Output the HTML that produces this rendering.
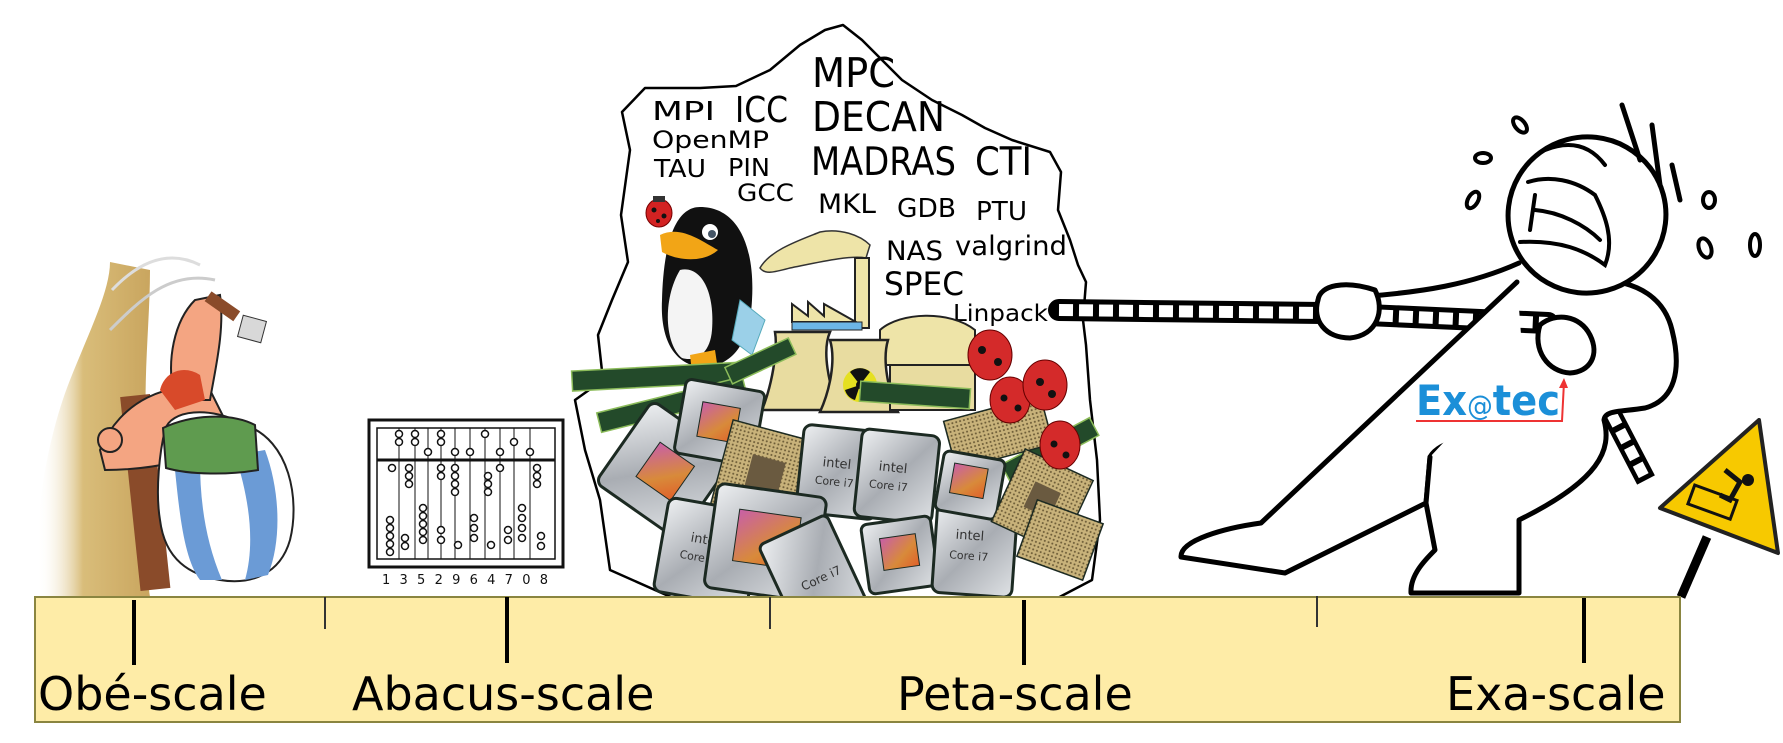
<!DOCTYPE html>
<html><head><meta charset="utf-8"><style>
html,body{margin:0;padding:0;background:#fff;}
svg{display:block;}
text{font-family:"DejaVu Sans","Liberation Sans",sans-serif;}
</style></head><body>
<svg width="1783" height="743" viewBox="0 0 1783 743" xmlns="http://www.w3.org/2000/svg">
<defs>
<linearGradient id="chip" x1="0" y1="0" x2="1" y2="1"><stop offset="0" stop-color="#eef0f2"/><stop offset="0.5" stop-color="#a9adb3"/><stop offset="1" stop-color="#dfe2e5"/></linearGradient>
<linearGradient id="die" x1="0" y1="0" x2="1" y2="1"><stop offset="0" stop-color="#c85fa8"/><stop offset="0.6" stop-color="#d88a3a"/><stop offset="1" stop-color="#e0602a"/></linearGradient>
<pattern id="pins" width="4" height="4" patternUnits="userSpaceOnUse"><rect width="4" height="4" fill="#c8b27a"/><circle cx="2" cy="2" r="1" fill="#6b5a35"/></pattern>
<linearGradient id="rock" x1="0" y1="0" x2="1" y2="0"><stop offset="0" stop-color="#fff" stop-opacity="0"/><stop offset="0.4" stop-color="#d9bd7a"/><stop offset="1" stop-color="#c9a55e"/></linearGradient>
</defs>

<!-- Obelix -->
<path d="M40,597 C30,520 50,430 70,380 C90,330 110,290 110,262 L150,270 C150,330 140,400 150,470 C155,530 145,570 150,597 Z" fill="url(#rock)"/>
<path d="M110,330 C140,300 170,270 215,280" fill="none" stroke="#ccc" stroke-width="3"/>
<rect x="130" y="395" width="30" height="195" fill="#8a4b2a" transform="rotate(-6 145 490)"/>
<path d="M100,450 C120,400 170,380 210,390 L235,440 C200,460 150,470 105,470 Z" fill="#f4a582" stroke="#222" stroke-width="2"/>
<path d="M175,400 C165,360 175,320 195,300 L220,295 C225,330 215,370 210,400 Z" fill="#f4a582" stroke="#222" stroke-width="2"/>
<circle cx="110" cy="440" r="12" fill="#f4a582" stroke="#222" stroke-width="2"/>
<path d="M112,290 C150,250 180,255 200,265" fill="none" stroke="#ddd" stroke-width="3"/>
<rect x="205" y="300" width="35" height="12" fill="#8a4b2a" transform="rotate(35 222 306)"/>
<rect x="240" y="318" width="24" height="22" fill="#d8d8d8" stroke="#333" transform="rotate(15 252 329)"/>
<path d="M165,430 C170,410 210,405 245,425 C290,440 300,500 290,540 C280,575 250,585 220,580 C190,575 165,560 160,520 C155,490 160,450 165,430 Z" fill="#fff" stroke="#222" stroke-width="2"/>
<path d="M175,470 C180,520 185,560 200,580 L222,580 C205,540 200,500 200,460 Z" fill="#6b9bd6"/>
<path d="M235,455 C250,500 255,545 245,580 L268,575 C282,540 280,490 265,450 Z" fill="#6b9bd6"/>
<path d="M163,428 C190,415 230,412 255,425 L258,470 C230,475 190,475 166,468 Z" fill="#5f9b4f" stroke="#222" stroke-width="2"/>
<path d="M160,390 C165,370 185,365 200,375 L205,400 L175,410 Z" fill="#d84a2a"/>

<!-- Abacus -->
<g stroke="#111" fill="none">
<rect x="369" y="420" width="194" height="147" stroke-width="3"/>
<rect x="377" y="428" width="178" height="131" stroke-width="1.5"/>
<line x1="377" y1="460" x2="555" y2="460" stroke-width="3"/>
<g stroke-width="1">
<line x1="399" y1="428" x2="399" y2="559"/><line x1="415" y1="428" x2="415" y2="559"/><line x1="428" y1="428" x2="428" y2="559"/><line x1="441" y1="428" x2="441" y2="559"/><line x1="455" y1="428" x2="455" y2="559"/><line x1="470" y1="428" x2="470" y2="559"/><line x1="485" y1="428" x2="485" y2="559"/><line x1="500" y1="428" x2="500" y2="559"/><line x1="514" y1="428" x2="514" y2="559"/><line x1="530" y1="428" x2="530" y2="559"/>
</g>
</g>
<g fill="#fff" stroke="#111" stroke-width="1.5">
<circle cx="399" cy="434" r="3.5"/><circle cx="399" cy="442" r="3.5"/><circle cx="415" cy="434" r="3.5"/><circle cx="415" cy="442" r="3.5"/><circle cx="428" cy="452" r="3.5"/><circle cx="441" cy="434" r="3.5"/><circle cx="441" cy="442" r="3.5"/><circle cx="455" cy="452" r="3.5"/><circle cx="470" cy="452" r="3.5"/><circle cx="485" cy="434" r="3.5"/><circle cx="500" cy="452" r="3.5"/><circle cx="514" cy="442" r="3.5"/><circle cx="530" cy="452" r="3.5"/>
<circle cx="392" cy="468" r="3.5"/><circle cx="409" cy="468" r="3.5"/><circle cx="409" cy="476" r="3.5"/><circle cx="409" cy="484" r="3.5"/><circle cx="441" cy="468" r="3.5"/><circle cx="441" cy="476" r="3.5"/><circle cx="455" cy="468" r="3.5"/><circle cx="455" cy="476" r="3.5"/><circle cx="455" cy="484" r="3.5"/><circle cx="455" cy="492" r="3.5"/><circle cx="488" cy="476" r="3.5"/><circle cx="488" cy="484" r="3.5"/><circle cx="488" cy="492" r="3.5"/><circle cx="500" cy="468" r="3.5"/><circle cx="537" cy="468" r="3.5"/><circle cx="537" cy="476" r="3.5"/><circle cx="537" cy="484" r="3.5"/>
<circle cx="390" cy="520" r="3.5"/><circle cx="390" cy="528" r="3.5"/><circle cx="390" cy="536" r="3.5"/><circle cx="390" cy="544" r="3.5"/><circle cx="390" cy="552" r="3.5"/><circle cx="405" cy="538" r="3.5"/><circle cx="405" cy="546" r="3.5"/><circle cx="423" cy="508" r="3.5"/><circle cx="423" cy="516" r="3.5"/><circle cx="423" cy="524" r="3.5"/><circle cx="423" cy="532" r="3.5"/><circle cx="423" cy="540" r="3.5"/><circle cx="441" cy="530" r="3.5"/><circle cx="441" cy="540" r="3.5"/><circle cx="458" cy="545" r="3.5"/><circle cx="474" cy="518" r="3.5"/><circle cx="474" cy="528" r="3.5"/><circle cx="474" cy="538" r="3.5"/><circle cx="491" cy="545" r="3.5"/><circle cx="508" cy="530" r="3.5"/><circle cx="508" cy="540" r="3.5"/><circle cx="522" cy="508" r="3.5"/><circle cx="522" cy="518" r="3.5"/><circle cx="522" cy="528" r="3.5"/><circle cx="522" cy="538" r="3.5"/><circle cx="541" cy="536" r="3.5"/><circle cx="541" cy="546" r="3.5"/>
</g>
<text x="382" y="584" font-size="13" textLength="166" fill="#111">1 3 5 2 9 6 4 7 0 8</text>

<!-- Cloud -->
<path d="M603,380 L598,335 L612,300 L628,262 L621,215 L630,150 L622,112 L645,88 L700,88 L736,86 L770,70 L800,45 L825,30 L843,25 L862,40 L882,60 L902,80 L932,100 L962,115 L985,128 L1012,140 L1050,152 L1061,172 L1058,210 L1070,240 L1078,265 L1086,282 L1083,320 L1086,345 L1090,400 L1097,460 L1100,520 L1092,580 L1050,602 L700,610 L610,570 L600,500 L585,450 L575,400 Z" fill="#fff" stroke="#000" stroke-width="2.5" stroke-linejoin="round"/>

<g fill="#000">
<text x="652" y="120" font-size="26" textLength="63" lengthAdjust="spacingAndGlyphs">MPI</text>
<text x="735" y="122" font-size="36" textLength="53" lengthAdjust="spacingAndGlyphs">ICC</text>
<text x="652" y="148" font-size="24" textLength="117" lengthAdjust="spacingAndGlyphs">OpenMP</text>
<text x="654" y="177" font-size="25" textLength="52" lengthAdjust="spacingAndGlyphs">TAU</text>
<text x="728" y="176" font-size="25" textLength="42" lengthAdjust="spacingAndGlyphs">PIN</text>
<text x="737" y="201" font-size="24" textLength="57" lengthAdjust="spacingAndGlyphs">GCC</text>
<text x="812" y="87" font-size="41" textLength="83" lengthAdjust="spacingAndGlyphs">MPC</text>
<text x="812" y="131" font-size="41" textLength="133" lengthAdjust="spacingAndGlyphs">DECAN</text>
<text x="811" y="175" font-size="39" textLength="145" lengthAdjust="spacingAndGlyphs">MADRAS</text>
<text x="975" y="175" font-size="39" textLength="57" lengthAdjust="spacingAndGlyphs">CTI</text>
<text x="818" y="213" font-size="27" textLength="58" lengthAdjust="spacingAndGlyphs">MKL</text>
<text x="897" y="217" font-size="26" textLength="59" lengthAdjust="spacingAndGlyphs">GDB</text>
<text x="976" y="220" font-size="26" textLength="51" lengthAdjust="spacingAndGlyphs">PTU</text>
<text x="886" y="260" font-size="27" textLength="57" lengthAdjust="spacingAndGlyphs">NAS</text>
<text x="955" y="255" font-size="27" textLength="112" lengthAdjust="spacingAndGlyphs">valgrind</text>
<text x="884" y="295" font-size="32" textLength="80" lengthAdjust="spacingAndGlyphs">SPEC</text>
<text x="953" y="321" font-size="23" textLength="95" lengthAdjust="spacingAndGlyphs">Linpack</text>
</g>

<!-- ladybug small -->
<g><ellipse cx="659" cy="213" rx="13" ry="14" fill="#d32222" stroke="#700" /><circle cx="654" cy="210" r="2.5" fill="#111"/><circle cx="664" cy="216" r="2.5" fill="#111"/><circle cx="658" cy="221" r="2" fill="#111"/><rect x="653" y="196" width="12" height="6" fill="#333"/></g>

<!-- Penguin -->
<path d="M700,207 C740,207 755,250 752,300 C750,340 735,365 705,367 C675,367 660,340 662,300 C663,260 670,207 700,207 Z" fill="#111"/>
<path d="M680,270 C700,265 715,290 712,330 C710,355 695,362 682,358 C665,345 662,300 680,270 Z" fill="#f4f4f4"/>
<path d="M660,235 C680,225 700,240 718,250 C705,262 680,262 662,252 Z" fill="#f2a516"/>
<circle cx="710" cy="232" r="8" fill="#fff"/><circle cx="712" cy="234" r="4" fill="#456"/>
<path d="M740,300 L765,320 L752,355 L732,340 Z" fill="#9bd0e8" stroke="#5ab" stroke-width="1"/>
<path d="M690,355 L715,350 L718,370 L692,372 Z" fill="#f2a516"/>

<!-- Smoke and factory -->
<path d="M760,268 C770,250 800,240 820,232 C840,228 860,235 870,245 L866,258 C850,255 820,262 790,268 C775,272 765,275 760,268 Z" fill="#eee4a8" stroke="#333" stroke-width="1.5"/>
<rect x="855" y="258" width="14" height="70" fill="#eee4a8" stroke="#222" stroke-width="2"/>
<path d="M792,322 L792,304 L808,316 L808,302 L824,316 L824,304 L856,322 Z" fill="#eee4a8" stroke="#222" stroke-width="2"/>
<rect x="792" y="322" width="70" height="8" fill="#6cb6e6" stroke="#222"/>
<path d="M880,330 C900,312 950,310 975,330 L975,365 L880,365 Z" fill="#eee4a8" stroke="#222" stroke-width="2"/>
<path d="M775,332 L830,332 C822,350 828,385 840,410 L762,410 C772,385 778,350 775,332 Z" fill="#e8dca0" stroke="#222" stroke-width="2.5"/>
<path d="M830,340 L888,340 C882,360 888,390 898,412 L820,412 C830,390 836,360 830,340 Z" fill="#e8dca0" stroke="#222" stroke-width="2.5"/>
<rect x="890" y="365" width="85" height="45" fill="#e8dca0" stroke="#222" stroke-width="2"/>
<circle cx="860" cy="385" r="17" fill="#e5e020"/><circle cx="860" cy="385" r="4" fill="#111"/>
<path d="M860,385 L850,372 A15,15 0 0 1 870,372 Z M860,385 L875,390 A15,15 0 0 1 865,400 Z M860,385 L855,400 A15,15 0 0 1 845,390 Z" fill="#111"/>

<!-- RAM sticks -->
<g fill="#234a2a" stroke="#8cbc5a" stroke-width="1.5">
<rect x="572" y="367" width="165" height="20" transform="rotate(-3 650 377)"/>
<rect x="597" y="395" width="150" height="20" transform="rotate(-14 670 405)"/>
<rect x="725" y="352" width="70" height="18" transform="rotate(-25 760 360)"/>
<rect x="1000" y="440" width="100" height="20" transform="rotate(-28 1050 450)"/>
<rect x="860" y="385" width="110" height="20" transform="rotate(4 915 395)"/>
</g>

<!-- CPU chips -->
<g stroke="#1c2a22" stroke-width="3">
<g transform="rotate(35 665 470)"><rect x="615" y="420" width="100" height="100" rx="8" fill="url(#chip)"/><rect x="645" y="450" width="42" height="42" fill="url(#die)" stroke-width="1"/></g>
<g transform="rotate(10 720 420)"><rect x="680" y="385" width="80" height="75" rx="6" fill="url(#chip)"/><rect x="700" y="405" width="38" height="35" fill="url(#die)" stroke-width="1"/></g>
<g transform="rotate(15 765 475)"><rect x="720" y="430" width="90" height="90" fill="url(#pins)" stroke-width="1.5"/><rect x="748" y="458" width="34" height="34" fill="#6a5a40" stroke-width="0"/></g>
<g transform="rotate(6 840 470)"><rect x="800" y="428" width="80" height="88" rx="8" fill="url(#chip)"/><text x="822" y="468" font-size="13" fill="#333" stroke="none">intel</text><text x="816" y="486" font-size="11" fill="#333" stroke="none">Core i7</text></g>
<g transform="rotate(6 895 475)"><rect x="858" y="432" width="78" height="88" rx="8" fill="url(#chip)"/><text x="878" y="472" font-size="13" fill="#333" stroke="none">intel</text><text x="870" y="490" font-size="11" fill="#333" stroke="none">Core i7</text></g>
<g transform="rotate(-15 990 440)"><rect x="950" y="410" width="100" height="50" fill="url(#pins)" stroke-width="1.5"/></g>
<g transform="rotate(10 710 555)"><rect x="660" y="505" width="95" height="95" rx="8" fill="url(#chip)"/><text x="688" y="545" font-size="13" fill="#333" stroke="none">intel</text><text x="680" y="563" font-size="11" fill="#333" stroke="none">Core i7</text></g>
<g transform="rotate(8 765 545)"><rect x="710" y="490" width="110" height="105" rx="8" fill="url(#chip)"/><rect x="735" y="513" width="62" height="52" fill="url(#die)" stroke-width="1"/></g>
<g transform="rotate(-25 815 580)"><rect x="778" y="525" width="75" height="110" rx="6" fill="url(#chip)"/><text x="800" y="585" font-size="12" fill="#333" stroke="none">Core i7</text></g>
<g transform="rotate(-8 900 555)"><rect x="865" y="520" width="70" height="70" rx="6" fill="url(#chip)"/><rect x="882" y="536" width="36" height="32" fill="url(#die)" stroke-width="1"/></g>
<g transform="rotate(4 975 545)"><rect x="935" y="505" width="80" height="90" rx="8" fill="url(#chip)"/><text x="955" y="540" font-size="13" fill="#333" stroke="none">intel</text><text x="950" y="560" font-size="11" fill="#333" stroke="none">Core i7</text></g>
<g transform="rotate(10 970 480)"><rect x="940" y="455" width="62" height="60" rx="6" fill="url(#chip)"/><rect x="952" y="466" width="34" height="30" fill="url(#die)" stroke-width="1"/></g>
<g transform="rotate(25 1040 500)"><rect x="1005" y="460" width="75" height="80" fill="url(#pins)" stroke-width="1.5"/><rect x="1028" y="485" width="28" height="28" fill="#6a5a40" stroke-width="0"/></g>
<g transform="rotate(20 1060 540)"><rect x="1025" y="510" width="70" height="60" fill="url(#pins)" stroke-width="1.5"/></g>
</g>

<!-- ladybugs -->
<g stroke="#600" stroke-width="1">
<ellipse cx="990" cy="355" rx="22" ry="25" fill="#d42a2a"/><ellipse cx="1010" cy="400" rx="20" ry="23" fill="#d42a2a"/><ellipse cx="1045" cy="385" rx="22" ry="25" fill="#d42a2a"/><ellipse cx="1060" cy="445" rx="20" ry="24" fill="#d42a2a"/>
</g>
<g fill="#111"><circle cx="982" cy="350" r="4"/><circle cx="998" cy="362" r="4"/><circle cx="1004" cy="398" r="3.5"/><circle cx="1018" cy="408" r="3.5"/><circle cx="1040" cy="382" r="4"/><circle cx="1052" cy="394" r="4"/><circle cx="1054" cy="444" r="3.5"/><circle cx="1066" cy="455" r="3.5"/></g>

<!-- Rope -->
<path d="M1059,310 L1322,313 L1548,323" fill="none" stroke="#000" stroke-width="22" stroke-linecap="round"/>
<path d="M1059,310 L1322,313 L1548,323" fill="none" stroke="#fff" stroke-width="12" stroke-dasharray="14 6"/>
<path d="M1585,363 L1646,480" fill="none" stroke="#000" stroke-width="20"/>
<path d="M1585,363 L1646,480" fill="none" stroke="#fff" stroke-width="11" stroke-dasharray="13 6"/>

<!-- Stick figure -->
<g fill="#fff" stroke="#000" stroke-width="5" stroke-linejoin="round" stroke-linecap="round">
<path d="M1517,282 L1261,523 C1225,528 1180,540 1181,557 L1285,573 L1426,503 L1430,457 C1440,440 1470,435 1529,440"/>
<path d="M1595,280 C1640,280 1665,300 1672,330 C1682,370 1675,400 1645,408 C1620,412 1605,410 1604,420 C1612,450 1600,480 1519,520 L1519,593 L1411,593 C1410,575 1425,560 1435,550 L1426,503 L1430,457"/>
<path d="M1519,263 C1470,285 1420,292 1370,296"/>
<ellipse cx="1587" cy="215" rx="79" ry="78" transform="rotate(-15 1587 215)"/>
<path d="M1318,300 C1320,285 1345,280 1375,290 C1385,310 1378,335 1350,338 C1325,338 1312,320 1318,300 Z"/>
<path d="M1540,325 C1555,312 1580,315 1590,335 C1600,355 1590,372 1570,373 C1548,372 1532,350 1540,325 Z"/>
<path d="M1622,105 L1640,160 M1652,125 L1660,185 M1672,165 L1680,200" fill="none"/>
</g>
<g fill="none" stroke="#000" stroke-width="4" stroke-linecap="round">
<path d="M1528,182 C1550,175 1575,180 1595,195 C1605,215 1615,240 1605,265 C1585,250 1560,240 1520,242"/>
<path d="M1535,195 L1530,230 M1535,210 C1560,212 1585,225 1600,240"/>
<path d="M1545,150 C1570,140 1590,145 1605,165"/>
</g>
<g fill="#fff" stroke="#000" stroke-width="4">
<ellipse cx="1520" cy="125" rx="5" ry="9" transform="rotate(-40 1520 125)"/>
<ellipse cx="1483" cy="158" rx="8" ry="5"/>
<ellipse cx="1473" cy="200" rx="5" ry="9" transform="rotate(30 1473 200)"/>
<ellipse cx="1709" cy="200" rx="6" ry="8"/>
<ellipse cx="1705" cy="248" rx="6" ry="10" transform="rotate(-20 1705 248)"/>
<ellipse cx="1755" cy="245" rx="5" ry="11"/>
</g>

<!-- Ex@tec -->
<text x="1416" y="415" font-size="42" font-weight="bold" fill="#1b8fd8" textLength="144" lengthAdjust="spacingAndGlyphs" font-family="Liberation Sans, sans-serif">Ex<tspan font-size="28" font-weight="normal">@</tspan>tec</text>
<path d="M1416,421 L1562,421 L1564,382" fill="none" stroke="#e33" stroke-width="2"/>
<path d="M1559,388 L1564,378 L1568,388" fill="#e33"/>

<!-- Warning sign -->
<line x1="1707" y1="537" x2="1681" y2="597" stroke="#000" stroke-width="9"/>
<path d="M1759,420 L1660,508 L1778,553 Z" fill="#f7c900" stroke="#222" stroke-width="4" stroke-linejoin="round"/>
<rect x="1690" y="492" width="45" height="20" fill="none" stroke="#111" stroke-width="3" transform="rotate(20 1712 502)"/>
<circle cx="1748" cy="480" r="6" fill="#111"/>
<path d="M1725,470 L1740,482 L1730,500 L1720,495" fill="none" stroke="#111" stroke-width="5"/>

<!-- Timeline bar -->
<rect x="35" y="597" width="1645" height="125" fill="#feeca7" stroke="#8a8540" stroke-width="2"/>
<g stroke="#000">
<line x1="134" y1="600" x2="134" y2="665" stroke-width="4"/>
<line x1="507" y1="597" x2="507" y2="663" stroke-width="4"/>
<line x1="1024" y1="600" x2="1024" y2="665" stroke-width="4"/>
<line x1="1584" y1="598" x2="1584" y2="663" stroke-width="4"/>
<line x1="325" y1="597" x2="325" y2="629" stroke-width="2" stroke="#333"/>
<line x1="770" y1="597" x2="770" y2="629" stroke-width="2" stroke="#333"/>
<line x1="1317" y1="596" x2="1317" y2="627" stroke-width="2" stroke="#333"/>
</g>
<g font-size="46" fill="#000">
<text x="38" y="710">Obé-scale</text>
<text x="352" y="710">Abacus-scale</text>
<text x="897" y="710">Peta-scale</text>
<text x="1446" y="710">Exa-scale</text>
</g>
</svg>
</body></html>
